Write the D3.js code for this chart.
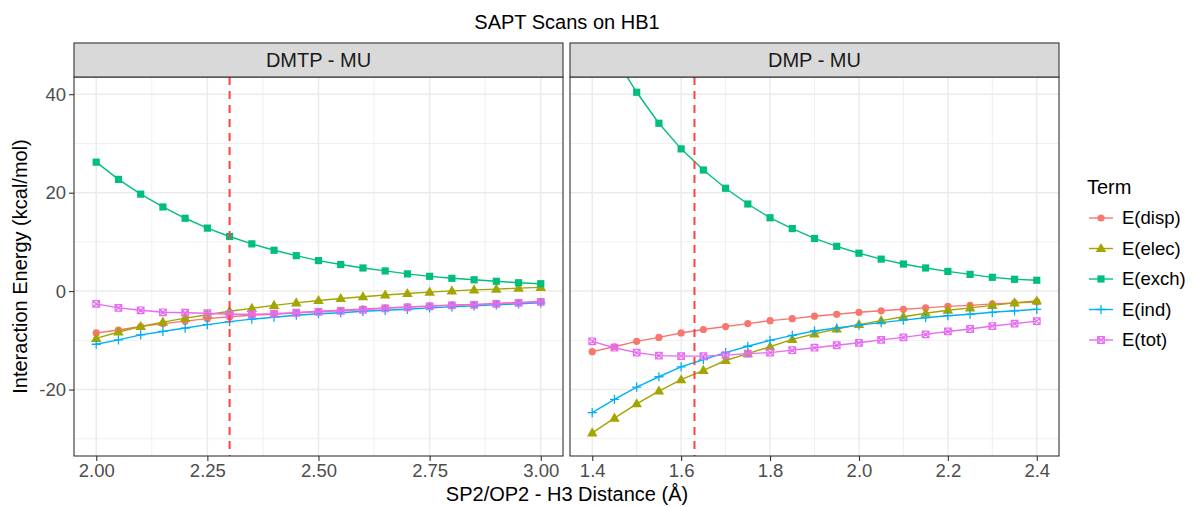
<!DOCTYPE html>
<html>
<head>
<meta charset="utf-8">
<script src="https://cdn.jsdelivr.net/npm/d3@7"></script>
<style>
  body { margin: 0; background: #fff; }
  text { font-family: "Liberation Sans", Arial, sans-serif; }
</style>
</head>
<body>
<svg id="chart" width="1197" height="507"></svg>
<script>
// terms and their ggplot hue colours
let terms = ["E(disp)", "E(elec)", "E(exch)", "E(ind)", "E(tot)"]
let termColors = ["#F8766D", "#A3A500", "#00BF7D", "#00B0F6", "#E76BF3"]
let panelNames = ["DMTP - MU", "DMP - MU"]

// DMTP - MU scan
let distDMTP = [2.00, 2.05, 2.10, 2.15, 2.20, 2.25, 2.30, 2.35, 2.40, 2.45, 2.50,
                2.55, 2.60, 2.65, 2.70, 2.75, 2.80, 2.85, 2.90, 2.95, 3.00]
let dispDMTP = [-8.5, -7.9, -7.2, -6.6, -6.1, -5.6, -5.2, -4.9, -4.7, -4.4, -4.1,
                -3.9, -3.6, -3.4, -3.2, -3.0, -2.8, -2.7, -2.5, -2.3, -2.1]
let elecDMTP = [-9.6, -8.3, -7.2, -6.3, -5.5, -4.8, -4.1, -3.5, -2.9, -2.4, -1.9,
                -1.5, -1.15, -0.8, -0.5, -0.2, 0.05, 0.25, 0.4, 0.6, 0.75]
let exchDMTP = [26.2, 22.7, 19.7, 17.1, 14.8, 12.8, 11.1, 9.6, 8.3, 7.2, 6.2,
                5.4, 4.7, 4.1, 3.5, 3.0, 2.6, 2.3, 2.0, 1.7, 1.5]
let indDMTP  = [-10.8, -9.9, -8.9, -8.2, -7.5, -6.8, -6.2, -5.7, -5.3, -4.9, -4.6,
                -4.4, -4.1, -3.9, -3.7, -3.4, -3.2, -3.0, -2.8, -2.6, -2.4]
let totDMTP  = [-2.6, -3.4, -3.9, -4.3, -4.4, -4.5, -4.7, -4.7, -4.6, -4.4, -4.2,
                -4.0, -3.8, -3.5, -3.3, -3.1, -2.9, -2.8, -2.6, -2.4, -2.2]

// DMP - MU scan
let distDMP = [1.40, 1.45, 1.50, 1.55, 1.60, 1.65, 1.70, 1.75, 1.80, 1.85, 1.90,
               1.95, 2.00, 2.05, 2.10, 2.15, 2.20, 2.25, 2.30, 2.35, 2.40]
let dispDMP = [-12.3, -11.3, -10.2, -9.4, -8.5, -7.8, -7.2, -6.6, -6.0, -5.6, -5.1,
               -4.7, -4.3, -4.0, -3.7, -3.4, -3.1, -2.9, -2.6, -2.4, -2.2]
let elecDMP = [-28.8, -25.8, -22.9, -20.3, -18.0, -16.1, -14.1, -12.7, -11.3, -9.8, -8.7,
               -7.7, -6.8, -6.0, -5.2, -4.5, -3.9, -3.4, -2.9, -2.4, -2.0]
let exchDMP = [55.6, 47.6, 40.4, 34.1, 28.9, 24.6, 20.9, 17.7, 14.9, 12.7, 10.7,
               9.1, 7.7, 6.5, 5.5, 4.7, 4.0, 3.4, 2.8, 2.4, 2.2]
let indDMP  = [-24.7, -22.0, -19.5, -17.4, -15.4, -13.9, -12.5, -11.2, -10.0, -9.0, -8.1,
               -7.5, -6.9, -6.4, -5.9, -5.4, -5.0, -4.7, -4.3, -4.0, -3.7]
let totDMP  = [-10.2, -11.5, -12.5, -13.1, -13.2, -13.2, -13.0, -12.7, -12.5, -12.0, -11.5,
               -11.0, -10.5, -9.9, -9.4, -8.8, -8.2, -7.7, -7.1, -6.6, -6.1]

let cutoffs = [2.30, 1.63]
let xTicksDMTP = [2.00, 2.25, 2.50, 2.75, 3.00]
let xTicksDMP = [1.4, 1.6, 1.8, 2.0, 2.2, 2.4]
let yTicks = [-20, 0, 20, 40]
let yLimits = [-30, 40]

let svg = d3.select("#chart")

let panelTop = 77
let panelBottom = 456
let stripHeight = 34
let tickFont = 18.5
let titleFont = 20

// ggplot style 5% expansion
function expand(ext) {
  let pad = (ext[1] - ext[0]) * 0.05
  return [ext[0] - pad, ext[1] + pad]
}

function minorBreaks(ticks, domain) {
  let step = ticks[1] - ticks[0]
  let out = []
  for (let i = -1; i < ticks.length; i++) {
    let m = ticks[0] + step * (i + 0.5)
    if (m > domain[0] && m < domain[1]) out.push(m)
  }
  return out
}

let y = d3.scaleLinear()
          .domain(expand(yLimits))
          .range([panelBottom, panelTop])

let panels = [
  { name: panelNames[0], dist: distDMTP, series: [dispDMTP, elecDMTP, exchDMTP, indDMTP, totDMTP],
    ticks: xTicksDMTP, fmt: d3.format(".2f"), cut: cutoffs[0], x0: 74, x1: 563 },
  { name: panelNames[1], dist: distDMP, series: [dispDMP, elecDMP, exchDMP, indDMP, totDMP],
    ticks: xTicksDMP, fmt: d3.format(".1f"), cut: cutoffs[1], x0: 570, x1: 1059 }
]

function drawPoint(g, shape, px, py, color) {
  if (shape === 0) {
    g.append("circle").attr("cx", px).attr("cy", py).attr("r", 3.6).attr("fill", color)
  } else if (shape === 1) {
    g.append("path").attr("d", d3.symbol(d3.symbolTriangle, 48)())
      .attr("transform", "translate(" + px + "," + (py + 0.5) + ")").attr("fill", color)
  } else if (shape === 2) {
    g.append("rect").attr("x", px - 3.6).attr("y", py - 3.6)
      .attr("width", 7.2).attr("height", 7.2).attr("fill", color)
  } else if (shape === 3) {
    g.append("path").attr("d", "M" + (px - 4.6) + "," + py + "H" + (px + 4.6) + "M" + px + "," + (py - 4.6) + "V" + (py + 4.6))
      .attr("stroke", color).attr("stroke-width", 1.3).attr("fill", "none")
  } else {
    let s = 3.3
    g.append("path")
      .attr("d", "M" + (px - s) + "," + (py - s) + "h" + (2 * s) + "v" + (2 * s) + "h" + (-2 * s) + "Z" +
                 "M" + (px - s) + "," + (py - s) + "L" + (px + s) + "," + (py + s) +
                 "M" + (px + s) + "," + (py - s) + "L" + (px - s) + "," + (py + s))
      .attr("stroke", color).attr("stroke-width", 1.2).attr("fill", "none")
  }
}

panels.forEach(function(p, pi) {

  let x = d3.scaleLinear()
            .domain(expand(d3.extent(p.dist)))
            .range([p.x0, p.x1])

  let g = svg.append("g")

  g.append("clipPath").attr("id", "clip" + pi)
    .append("rect")
    .attr("x", p.x0).attr("y", panelTop)
    .attr("width", p.x1 - p.x0).attr("height", panelBottom - panelTop)

  // minor grid
  g.selectAll(".minorx").data(minorBreaks(p.ticks, x.domain())).enter()
    .append("line")
    .attr("x1", function(d) { return x(d) }).attr("x2", function(d) { return x(d) })
    .attr("y1", panelTop).attr("y2", panelBottom)
    .attr("stroke", "#EBEBEB").attr("stroke-width", 0.8)
  g.selectAll(".minory").data(minorBreaks(yTicks, y.domain())).enter()
    .append("line")
    .attr("y1", function(d) { return y(d) }).attr("y2", function(d) { return y(d) })
    .attr("x1", p.x0).attr("x2", p.x1)
    .attr("stroke", "#EBEBEB").attr("stroke-width", 0.8)

  // major grid
  g.selectAll(".majorx").data(p.ticks).enter()
    .append("line")
    .attr("x1", function(d) { return x(d) }).attr("x2", function(d) { return x(d) })
    .attr("y1", panelTop).attr("y2", panelBottom)
    .attr("stroke", "#EBEBEB").attr("stroke-width", 1.5)
  g.selectAll(".majory").data(yTicks).enter()
    .append("line")
    .attr("y1", function(d) { return y(d) }).attr("y2", function(d) { return y(d) })
    .attr("x1", p.x0).attr("x2", p.x1)
    .attr("stroke", "#EBEBEB").attr("stroke-width", 1.5)

  let plot = g.append("g").attr("clip-path", "url(#clip" + pi + ")")

  p.series.forEach(function(vals, si) {
    let line = d3.line()
                 .x(function(d, i) { return x(p.dist[i]) })
                 .y(function(d) { return y(d) })
    plot.append("path")
      .attr("d", line(vals))
      .attr("fill", "none")
      .attr("stroke", termColors[si])
      .attr("stroke-width", 1.4)
    vals.forEach(function(v, i) {
      drawPoint(plot, si, x(p.dist[i]), y(v), termColors[si])
    })
  })

  // cutoff line
  plot.append("line")
    .attr("x1", x(p.cut)).attr("x2", x(p.cut))
    .attr("y1", panelTop).attr("y2", panelBottom)
    .attr("stroke", "#FF4040").attr("stroke-width", 2)
    .attr("stroke-dasharray", "8,6")

  // panel border
  g.append("rect")
    .attr("x", p.x0).attr("y", panelTop)
    .attr("width", p.x1 - p.x0).attr("height", panelBottom - panelTop)
    .attr("fill", "none").attr("stroke", "#333333").attr("stroke-width", 1.1)

  // strip
  g.append("rect")
    .attr("x", p.x0).attr("y", panelTop - stripHeight)
    .attr("width", p.x1 - p.x0).attr("height", stripHeight)
    .attr("fill", "#D9D9D9").attr("stroke", "#333333").attr("stroke-width", 1.1)
  g.append("text")
    .attr("x", (p.x0 + p.x1) / 2).attr("y", panelTop - stripHeight / 2)
    .attr("dy", "0.35em").attr("text-anchor", "middle")
    .attr("font-size", titleFont).attr("fill", "#1A1A1A")
    .text(p.name)

  // x axis
  let xAxis = g.append("g")
    .attr("transform", "translate(0," + panelBottom + ")")
    .call(d3.axisBottom(x).tickValues(p.ticks).tickFormat(p.fmt).tickSize(5).tickPadding(3))
  xAxis.select(".domain").remove()
  xAxis.selectAll("line").attr("stroke", "#333333").attr("stroke-width", 1.1)
  xAxis.selectAll("text").attr("font-size", tickFont).attr("fill", "#4D4D4D")
    .attr("font-family", "Liberation Sans, Arial, sans-serif")

  if (pi === 0) {
    let yAxis = g.append("g")
      .attr("transform", "translate(" + p.x0 + ",0)")
      .call(d3.axisLeft(y).tickValues(yTicks).tickFormat(function(d) { return String(d) })
              .tickSize(5).tickPadding(3))
    yAxis.select(".domain").remove()
    yAxis.selectAll("line").attr("stroke", "#333333").attr("stroke-width", 1.1)
    yAxis.selectAll("text").attr("font-size", tickFont).attr("fill", "#4D4D4D")
      .attr("font-family", "Liberation Sans, Arial, sans-serif")
  }
})

// titles
svg.append("text")
  .attr("x", 567).attr("y", 22).attr("dy", "0.35em")
  .attr("text-anchor", "middle").attr("font-size", titleFont).attr("fill", "#000")
  .text("SAPT Scans on HB1")

svg.append("text")
  .attr("x", 567).attr("y", 494).attr("dy", "0.35em")
  .attr("text-anchor", "middle").attr("font-size", titleFont).attr("fill", "#000")
  .text("SP2/OP2 - H3 Distance (Å)")

svg.append("text")
  .attr("transform", "translate(20," + (panelTop + panelBottom) / 2 + ") rotate(-90)")
  .attr("dy", "0.35em").attr("text-anchor", "middle")
  .attr("font-size", titleFont).attr("fill", "#000")
  .text("Interaction Energy (kcal/mol)")

// legend
let legend = svg.append("g")
legend.append("text")
  .attr("x", 1087).attr("y", 187).attr("dy", "0.35em")
  .attr("font-size", titleFont).attr("fill", "#000")
  .text("Term")

terms.forEach(function(t, i) {
  let ly = 218 + i * 30.5
  legend.append("line")
    .attr("x1", 1089).attr("x2", 1113).attr("y1", ly).attr("y2", ly)
    .attr("stroke", termColors[i]).attr("stroke-width", 1.4)
  drawPoint(legend, i, 1101, ly, termColors[i])
  legend.append("text")
    .attr("x", 1122).attr("y", ly).attr("dy", "0.35em")
    .attr("font-size", tickFont).attr("fill", "#000")
    .text(t)
})
</script>
</body>
</html>
